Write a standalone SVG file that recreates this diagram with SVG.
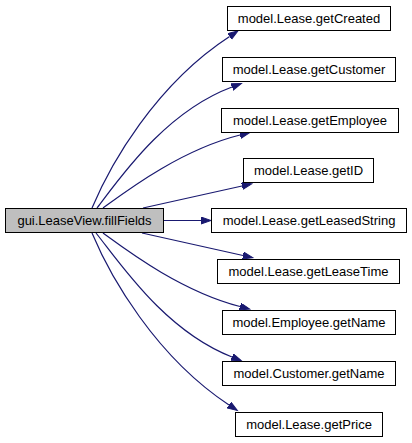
<svg xmlns="http://www.w3.org/2000/svg" width="412" height="443" viewBox="0 0 412 443">
<style>
.n rect{fill:#ffffff;stroke:#000000;stroke-width:1}
#main rect{fill:#bfbfbf}
text{font-family:"Liberation Sans",Arial,sans-serif;font-size:13px;fill:#000000;text-anchor:middle}
.e path{fill:none;stroke:#191970;stroke-width:1.2;marker-end:url(#arr)}
</style>
<defs>
<marker id="arr" markerUnits="userSpaceOnUse" markerWidth="12" markerHeight="10" refX="0" refY="3.5" orient="auto">
<polygon points="0,0 10,3.5 0,7" fill="#191970" stroke="#191970" stroke-width="1"/>
</marker>
</defs>
<rect width="412" height="443" fill="#ffffff"/>
<g id="edges" class="e">
<path d="M92,208 C110,165 155,85 229.6,36.4"/>
<path d="M97,208 C120,178 165,112 232,87"/>
<path d="M103,208 C125,192 180,150 240,135"/>
<path d="M143,208 L242,186"/>
<path d="M164,220.5 L201,220.5"/>
<path d="M142,233 L243,255.5"/>
<path d="M103,233 C125,249 180,291 240,306.5"/>
<path d="M96,233 C120,263 165,331 232,357"/>
<path d="M92,233 C110,276 155,356 229,405"/>
</g>
<g id="main" class="n"><rect x="5.5" y="208.5" width="158" height="24"/><text x="84.5" y="225">gui.LeaseView.fillFields</text></g>
<g id="n1" class="n"><rect x="227.5" y="6.5" width="163" height="24"/><text x="309" y="23">model.Lease.getCreated</text></g>
<g id="n2" class="n"><rect x="222.5" y="57.5" width="173" height="24"/><text x="309" y="74">model.Lease.getCustomer</text></g>
<g id="n3" class="n"><rect x="221.5" y="108.5" width="177" height="24"/><text x="310" y="125">model.Lease.getEmployee</text></g>
<g id="n4" class="n"><rect x="243.5" y="158.5" width="130" height="24"/><text x="308.5" y="175">model.Lease.getID</text></g>
<g id="n5" class="n"><rect x="211.5" y="208.5" width="195" height="24"/><text x="309" y="225">model.Lease.getLeasedString</text></g>
<g id="n6" class="n"><rect x="217.5" y="259.5" width="182" height="24"/><text x="308.5" y="276">model.Lease.getLeaseTime</text></g>
<g id="n7" class="n"><rect x="222.5" y="310.5" width="173" height="24"/><text x="309" y="327">model.Employee.getName</text></g>
<g id="n8" class="n"><rect x="222.5" y="361.5" width="173" height="24"/><text x="309" y="378">model.Customer.getName</text></g>
<g id="n9" class="n"><rect x="235.5" y="412.5" width="147" height="24"/><text x="309" y="429">model.Lease.getPrice</text></g>
</svg>
